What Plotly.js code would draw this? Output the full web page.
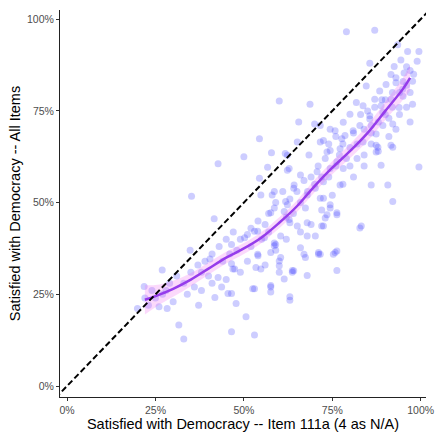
<!DOCTYPE html>
<html>
<head>
<meta charset="utf-8">
<script src="https://cdn.plot.ly/plotly-3.0.1.min.js"></script>
<style>html,body{margin:0;padding:0;background:#fff;}#chart{width:435px;height:434px;}</style>
</head>
<body>
<div id="chart"></div>
<script>
// ---- data ----
const ptX = [
0.60,0.687,0.655,0.70,0.544,0.578,0.50,0.427,0.623,0.352,0.416,0.544,0.567,0.58,0.54,0.51,
0.348,0.404,0.269,0.218,0.199,0.26,0.283,0.316,0.33,0.372,0.418,0.455,0.469,0.427,0.437,0.506,0.465,0.525,0.53,0.478,
0.54,0.53,0.576,0.576,0.60,0.63,0.60,0.637,0.614,0.63,0.586,0.534,0.502,
0.628,0.684,0.66,0.707,0.735,0.763,0.548,0.586,0.618,0.642,0.679,0.702,0.725,0.744,0.576,0.628,0.651,0.679,0.725,0.735,0.763,
0.558,0.604,0.679,0.702,0.539,0.586,0.604,0.66,0.674,0.716,0.753,0.474,0.548,0.60,0.637,0.679,0.53,0.576,0.465,
0.79,0.935,0.963,0.995,0.99,0.944,0.925,0.856,0.953,0.916,0.93,0.846,0.884,0.902,0.977,0.949,0.818,0.837,0.87,0.916,0.939,0.977,
0.80,0.856,0.893,0.781,0.828,0.893,0.921,0.758,0.809,0.874,0.725,0.777,0.837,0.879,0.921,0.744,0.716,
0.874,0.874,0.916,0.995,0.888,0.86,0.907,0.921,0.828,0.763,0.744,0.73,0.72,0.711,0.758,0.772,0.744,0.781,0.716,0.763,
0.617,0.651,0.716,0.744,0.832,0.67,0.711,0.641,0.59,0.539,0.465,0.465,0.576,0.614,0.763,0.623,0.641,0.725,0.674,0.623,0.586,0.772,0.786,0.856,0.888,
0.87,0.63,
0.70,0.68,0.72,0.76,0.79,0.82,0.84,0.86,0.88,0.90,0.92,0.94,0.96,0.66,0.62,0.57,0.48,0.44,0.38,0.33,0.28,0.25,0.23,0.36,0.40,0.46,0.52,0.55,0.64,0.74,0.80,0.86,0.90,0.95,0.97,0.93,0.81,0.77,
0.96,0.98,0.95,0.97,0.92,0.89,0.87,0.85,0.83,0.91,0.94,0.96,0.86,0.84,0.82,0.80,0.78,0.76,0.74,0.73,0.71,0.69,0.67,0.65,0.63,0.61,0.59,0.57,0.56,0.52,0.49,0.47,
0.45,0.43,0.41,0.39,0.37,0.35,0.31,0.29,0.27,0.24,0.22,0.30,0.34,0.38,0.41,0.45,0.49,0.51,0.56,0.59,0.62,0.66,0.69,0.72,0.75,0.78,0.81,0.84,0.88,0.91,0.93,0.97
];
const ptY = [
0.777,0.768,0.72,0.714,0.674,0.636,0.625,0.606,0.629,0.517,0.456,0.566,0.596,0.521,0.45,0.413,
0.37,0.346,0.316,0.271,0.211,0.216,0.211,0.166,0.128,0.22,0.241,0.252,0.319,0.296,0.27,0.189,0.148,0.265,0.139,0.225,
0.355,0.422,0.364,0.274,0.341,0.243,0.31,0.315,0.476,0.445,0.39,0.323,0.404,
0.593,0.63,0.575,0.584,0.638,0.611,0.521,0.53,0.503,0.548,0.521,0.539,0.557,0.494,0.472,0.454,0.436,0.445,0.436,0.467,0.472,
0.404,0.409,0.409,0.409,0.359,0.382,0.35,0.377,0.35,0.359,0.359,0.319,0.319,0.328,0.31,0.301,0.265,0.27,0.252,
0.966,0.93,0.912,0.912,0.885,0.889,0.871,0.88,0.853,0.849,0.827,0.818,0.804,0.822,0.831,0.809,0.773,0.764,0.782,0.782,0.759,0.768,
0.741,0.737,0.746,0.719,0.71,0.71,0.714,0.696,0.696,0.687,0.669,0.674,0.665,0.651,0.651,0.642,0.71,
0.656,0.638,0.656,0.597,0.602,0.548,0.548,0.503,0.431,0.467,0.485,0.458,0.436,0.364,0.364,0.548,0.593,0.593,0.512,0.315,
0.634,0.665,0.665,0.70,0.436,0.359,0.359,0.314,0.386,0.422,0.386,0.333,0.256,0.292,0.368,0.588,0.539,0.512,0.485,0.494,0.485,0.647,0.683,0.728,0.764,
0.97,0.234,
0.55,0.53,0.57,0.60,0.62,0.66,0.70,0.69,0.72,0.74,0.76,0.80,0.82,0.50,0.46,0.42,0.37,0.34,0.31,0.28,0.26,0.24,0.22,0.27,0.30,0.36,0.38,0.40,0.47,0.57,0.65,0.71,0.78,0.83,0.86,0.84,0.69,0.63,
0.87,0.85,0.79,0.80,0.80,0.78,0.76,0.75,0.74,0.73,0.74,0.76,0.66,0.63,0.62,0.60,0.66,0.68,0.66,0.62,0.60,0.57,0.56,0.53,0.51,0.53,0.50,0.47,0.44,0.43,0.40,0.42,
0.40,0.38,0.36,0.34,0.33,0.31,0.30,0.28,0.25,0.26,0.24,0.23,0.25,0.26,0.28,0.29,0.31,0.34,0.33,0.37,0.40,0.42,0.44,0.48,0.52,0.55,0.57,0.60,0.64,0.68,0.70,0.72
];
// smoothed trend and its band
const smoothX  = [0.22, 0.25, 0.30, 0.35, 0.40, 0.45, 0.50, 0.55, 0.60, 0.65, 0.70, 0.75, 0.80, 0.85, 0.90, 0.95, 0.97];
const smoothY  = [0.235,0.245,0.265,0.29, 0.32, 0.35, 0.375,0.405,0.445,0.49, 0.545,0.595,0.64, 0.69, 0.75, 0.81, 0.84];
const bandLow  = [0.195,0.215,0.243,0.272,0.303,0.334,0.360,0.390,0.430,0.474,0.528,0.577,0.621,0.668,0.725,0.780,0.805];
const bandHigh = [0.275,0.275,0.287,0.308,0.337,0.366,0.390,0.420,0.460,0.506,0.562,0.613,0.659,0.712,0.775,0.840,0.875];
const refLine = [-0.05, 1.05];
const tickVals = [0, 0.25, 0.5, 0.75, 1];
const tickLabels = ["0%", "25%", "50%", "75%", "100%"];
const xTitle = "Satisfied with Democracy -- Item 111a (4 as N/A)";
const yTitle = "Satisfied with Democracy -- All Items";

const FONT = "Liberation Sans, Arial, Helvetica, sans-serif";

const traces = [
  {x: ptX, y: ptY, type: "scatter", mode: "markers",
   marker: {size: 7, color: "rgba(60,60,255,0.26)", line: {width: 0}}, hoverinfo: "skip"},
  {x: smoothX, y: bandLow, type: "scatter", mode: "lines", line: {width: 0, shape: "spline"}, hoverinfo: "skip"},
  {x: smoothX, y: bandHigh, type: "scatter", mode: "lines", line: {width: 0, shape: "spline"},
   fill: "tonexty", fillcolor: "rgba(240,120,240,0.28)", hoverinfo: "skip"},
  {x: smoothX, y: smoothY, type: "scatter", mode: "lines",
   line: {color: "rgb(150,60,235)", width: 2.5, shape: "spline"}, hoverinfo: "skip"},
  {x: refLine, y: refLine, type: "scatter", mode: "lines",
   line: {color: "#000", width: 2, dash: "6px,3px"}, hoverinfo: "skip"}
];

const axisCommon = {
  showgrid: false, zeroline: false, showline: true, linecolor: "#222", linewidth: 1,
  ticks: "outside", ticklen: 3, tickcolor: "#333", tickwidth: 1,
  tickvals: tickVals, ticktext: tickLabels, ticklabeloverflow: "allow",
  tickfont: {family: FONT, size: 10.5, color: "#4d4d4d"}
};

const layout = {
  width: 435, height: 434,
  margin: {l: 60, r: 9, t: 10, b: 37},
  paper_bgcolor: "#fff", plot_bgcolor: "#fff",
  showlegend: false,
  font: {family: FONT},
  xaxis: Object.assign({}, axisCommon, {
    range: [-0.02, 1.015],
    title: {text: xTitle, font: {family: FONT, size: 14.5, color: "#000"}, standoff: 0}
  }),
  yaxis: Object.assign({}, axisCommon, {
    range: [-0.03, 1.025],
    title: {text: yTitle, font: {family: FONT, size: 14.5, color: "#000"}, standoff: 2}
  })
};

Plotly.newPlot("chart", traces, layout, {staticPlot: true, displayModeBar: false});
</script>
</body>
</html>
